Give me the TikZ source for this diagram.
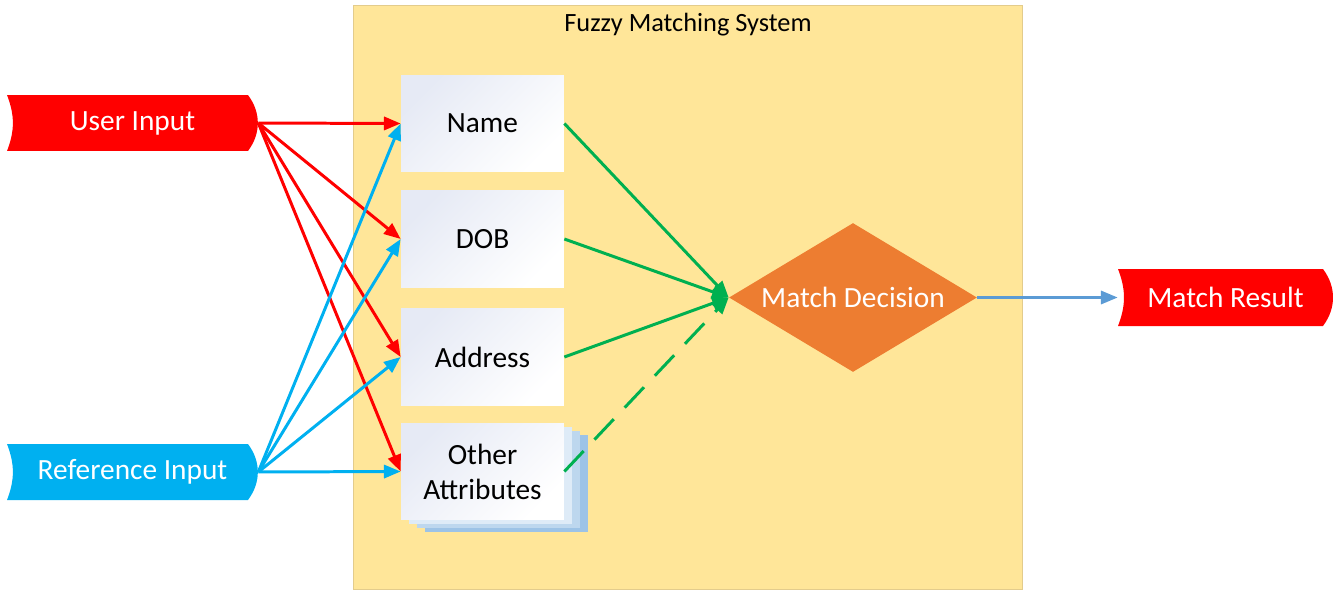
\documentclass[tikz,border=0pt]{standalone}
\usepackage{fontspec}
\setmainfont{Carlito}
\usetikzlibrary{shapes.geometric,shadows,arrows.meta}

\begin{document}
\begin{tikzpicture}[x=0.02cm,y=-0.02cm,>={Triangle[length=9.5pt,width=7.5pt]},
					inputflag/.style={minimum width=5.02cm, minimum height=1.12cm, inner sep=0, text=white, font=\fontsize{16.7}{20}\selectfont,
						path picture={\fill[#1] (path picture bounding box.north west) to[bend left=21] (path picture bounding box.south west) -- ([xshift=-0.2cm]path picture bounding box.south east) to[bend right=37] ([xshift=-0.2cm]path picture bounding box.north east) -- cycle;}},
					attrbox/.style={minimum width=3.26cm, minimum height=1.94cm, inner sep=0, align=center, top color=boxtint, bottom color=white, shading angle=45, font=\fontsize{16.7}{20}\selectfont},
					decisionbox/.style={diamond, minimum width=4.96cm, minimum height=2.98cm, aspect=1.66, inner sep=0, fill=decisionorange, text=white, font=\fontsize{16.7}{20}\selectfont},
					redarrow/.style={->, line width=1.7pt, userred},
					bluearrow/.style={->, line width=1.7pt, refblue},
					greenarrow/.style={->, line width=1.7pt, matchgreen}]
					\definecolor{userred}{HTML}{FF0000}
					\definecolor{refblue}{HTML}{00B0F0}
					\definecolor{matchgreen}{HTML}{00B050}
					\definecolor{decisionorange}{HTML}{ED7D31}
					\definecolor{resultblue}{HTML}{5B9BD5}
					\definecolor{fuzzyfill}{HTML}{FFE699}
					\definecolor{fuzzyedge}{HTML}{E3CC8C}
					\definecolor{boxtint}{HTML}{E6EAF5}
					\definecolor{sheeta}{HTML}{DEEBF7}
					\definecolor{sheetb}{HTML}{BDD7EE}
					\definecolor{sheetc}{HTML}{9DC3E6}
					\useasboundingbox (0,0) rectangle (1340,599);
					
					% system frame
					\node[draw=fuzzyedge, fill=fuzzyfill, minimum width=13.38cm, minimum height=11.68cm, inner sep=0] (system) at (687.5,297) {};
					\node[font=\fontsize{15}{18}\selectfont] (systemtitle) at (688,25) {Fuzzy Matching System};
					
					% inputs and result
					\node[inputflag=userred] (user) at (132.5,123) {User Input};
					\node[inputflag=refblue] (reference) at (132.5,472) {Reference Input};
					\node[inputflag=userred, minimum width=4.3cm, minimum height=1.14cm] (result) at (1225.5,297.5) {Match Result};
					
					% attributes
					\node[attrbox] (name) at (482.5,123.5) {Name};
					\node[attrbox] (dob) at (482.5,239) {DOB};
					\node[attrbox] (address) at (482.5,357) {Address};
					\node[attrbox,
						copy shadow={shadow xshift=0.48cm, shadow yshift=-0.24cm, fill=sheetc, draw=none},
						copy shadow={shadow xshift=0.32cm, shadow yshift=-0.16cm, fill=sheetb, draw=none},
						copy shadow={shadow xshift=0.16cm, shadow yshift=-0.08cm, fill=sheeta, draw=none}] (other) at (482.5,471.5) {Other\\Attributes};
					
					\node[decisionbox] (decision) at (853,297.5) {Match Decision};
					
					% arrows
					\foreach \target in {name,dob,address,other}
						\draw[redarrow] (user.east) -- (\target.west);
					\foreach \target in {name,dob,address,other}
						\draw[bluearrow] (reference.east) -- (\target.west);
					\foreach \attr in {name,dob,address}
						\draw[greenarrow] (\attr.east) -- (decision.west);
					\draw[greenarrow, dash pattern=on 16pt off 9pt] (other.east) -- (decision.west);
					\draw[->, line width=1.5pt, resultblue] (decision.east) -- (result.west);
				\end{tikzpicture}
\end{document}
